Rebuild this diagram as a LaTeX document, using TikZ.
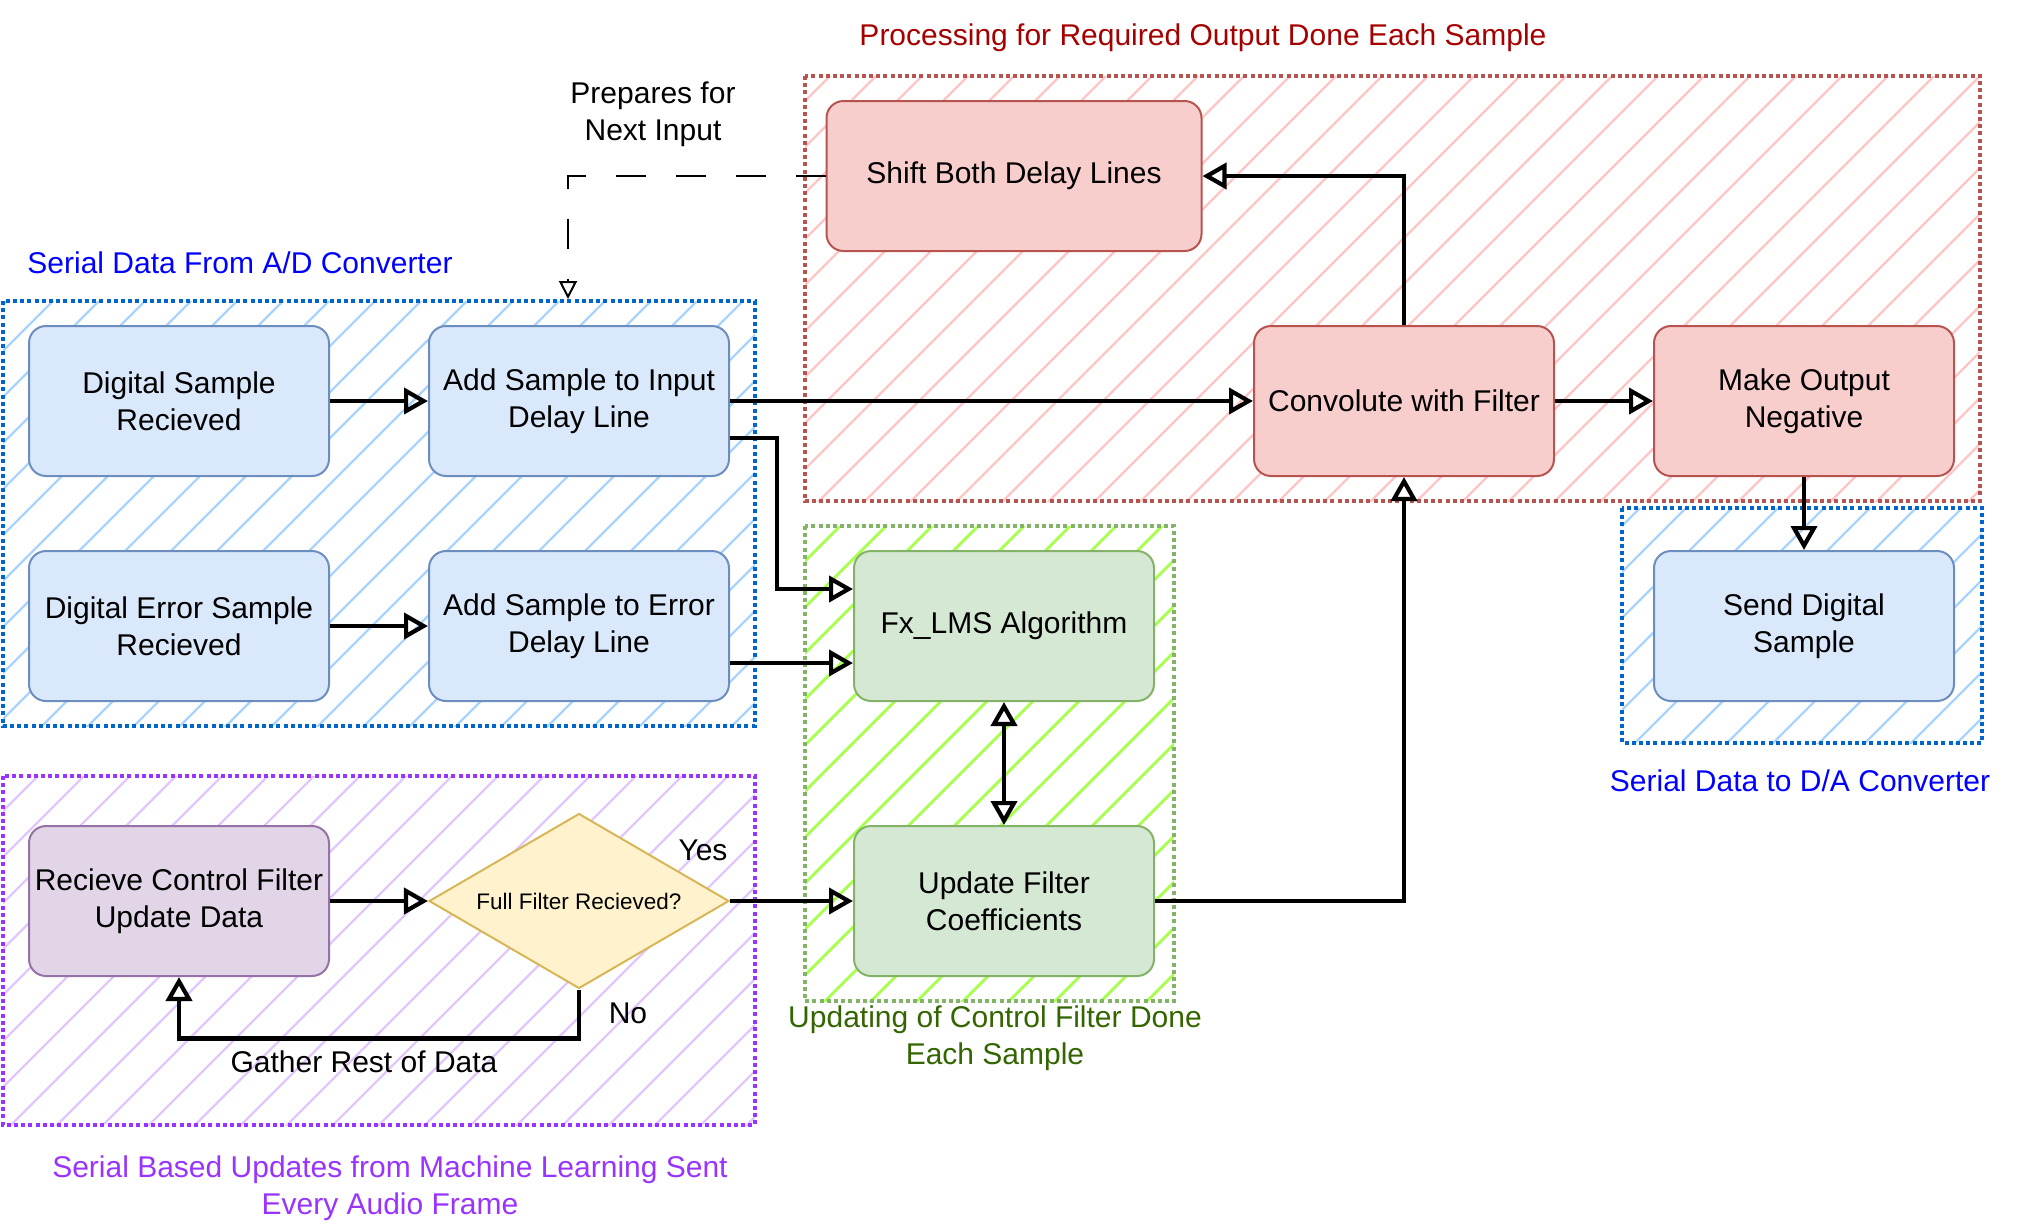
\documentclass[tikz,border=0pt]{standalone}
\usepackage{fontspec}
\setmainfont{Liberation Sans}
\usepackage{xcolor}
\usepackage{tikz}
\usetikzlibrary{arrows.meta,calc,shapes.geometric}

\definecolor{bluefill}{HTML}{DAE8FC}
\definecolor{blueline}{HTML}{6C8EBF}
\definecolor{redfill}{HTML}{F8CECC}
\definecolor{redline}{HTML}{B85450}
\definecolor{greenfill}{HTML}{D5E8D4}
\definecolor{greenline}{HTML}{82B366}
\definecolor{purplefill}{HTML}{E1D5E7}
\definecolor{purpleline}{HTML}{9673A6}
\definecolor{yellowfill}{HTML}{FFF2CC}
\definecolor{yellowline}{HTML}{D6B656}
\definecolor{bluedot}{HTML}{0066CC}
\definecolor{bluehatch}{HTML}{A9D3FF}
\definecolor{reddot}{HTML}{B85450}
\definecolor{redhatch}{HTML}{FFC4C4}
\definecolor{greendot}{HTML}{82B366}
\definecolor{greenhatch}{HTML}{A6FF4D}
\definecolor{purpledot}{HTML}{9933FF}
\definecolor{purplehatch}{HTML}{E2C6FF}
\definecolor{redtitle}{HTML}{A50000}
\definecolor{bluetitle}{HTML}{0000FF}
\definecolor{greentitle}{HTML}{336600}
\definecolor{purpletitle}{HTML}{9933FF}

\newcommand{\hatchrect}[4]{%
  \begin{scope}
    \clip #2 rectangle #3;
    \foreach \hx in {-1288,-1242,...,2040}
      \draw[#1,line width=#4] (\hx,1228) -- ++(1228,-1228);
  \end{scope}}

\begin{document}
\begin{tikzpicture}[x=0.5pt,y=-0.5pt,
    box/.style={draw,rounded corners=8.5pt,line width=1pt,minimum width=150pt,minimum height=75pt,inner sep=0pt,align=center,font=\fontsize{15}{18.5}\selectfont},
    bluebox/.style={box,fill=bluefill,draw=blueline},
    redbox/.style={box,fill=redfill,draw=redline},
    greenbox/.style={box,fill=greenfill,draw=greenline},
    purplebox/.style={box,fill=purplefill,draw=purpleline},
    frame/.style={line width=2pt,dash pattern=on 2pt off 1.6pt},
    flow/.style={line width=2.1pt,-{Triangle[open,length=12pt,width=13pt]}},
    lbl/.style={align=center,font=\fontsize{15}{18.5}\selectfont}]
    \useasboundingbox (0,0) rectangle (2040,1228);

    \hatchrect{redhatch}{(805,76)}{(1980,501)}{1.1pt}
    \hatchrect{bluehatch}{(3,301)}{(755,726)}{1.1pt}
    \hatchrect{greenhatch}{(805,526)}{(1174,1001)}{1.4pt}
    \hatchrect{purplehatch}{(3,776)}{(755,1125)}{1.1pt}
    \hatchrect{bluehatch}{(1622,508)}{(1982,743)}{1.1pt}
    \draw[frame,draw=reddot] (805,76) rectangle (1980,501);
    \draw[frame,draw=bluedot] (3,301) rectangle (755,726);
    \draw[frame,draw=greendot] (805,526) rectangle (1174,1001);
    \draw[frame,draw=purpledot] (3,776) rectangle (755,1125);
    \draw[frame,draw=bluedot] (1622,508) rectangle (1982,743);

    \node[lbl,text=redtitle] (redtitle) at (1203,38) {Processing for Required Output Done Each Sample};
    \node[lbl,text=bluetitle] (intitle) at (240,263) {Serial Data From A/D Converter};
    \node[lbl,text=bluetitle] (outtitle) at (1800,781) {Serial Data to D/A Converter};
    \node[lbl,text=greentitle] (greentitle) at (995,1038) {Updating of Control Filter Done\\Each Sample};
    \node[lbl,text=purpletitle] (purpletitle) at (390,1188) {Serial Based Updates from Machine Learning Sent\\Every Audio Frame};

    \node[bluebox] (sample) at (179,401) {Digital Sample\\Recieved};
    \node[bluebox] (addin) at (579,401) {Add Sample to Input\\Delay Line};
    \node[bluebox] (error) at (179,626) {Digital Error Sample\\Recieved};
    \node[bluebox] (adderr) at (579,626) {Add Sample to Error\\Delay Line};
    \node[redbox,minimum width=187.5pt] (shift) at (1014,176) {Shift Both Delay Lines};
    \node[redbox] (conv) at (1404,401) {Convolute with Filter};
    \node[redbox] (neg) at (1804,401) {Make Output\\Negative};
    \node[bluebox] (send) at (1804,626) {Send Digital\\Sample};
    \node[greenbox] (lms) at (1004,626) {Fx\_LMS Algorithm};
    \node[greenbox] (update) at (1004,901) {Update Filter\\Coefficients};
    \node[purplebox] (recv) at (179,901) {Recieve Control Filter\\Update Data};
    \node[draw=yellowline,fill=yellowfill,line width=1pt,diamond,aspect=2,minimum width=150pt,minimum height=87.5pt,inner sep=0pt,font=\fontsize{11.25}{13.5}\selectfont] (full) at (579,901) {Full Filter Recieved?};

    \node[lbl] (prep) at (653,114) {Prepares for\\Next Input};
    \node[lbl] (yes) at (703,850) {Yes};
    \node[lbl] (no) at (628,1013) {No};
    \node[lbl] (gather) at (364,1062) {Gather Rest of Data};
    \coordinate (dashend) at (568,299);

    \draw[line width=1pt,dash pattern=on 15pt off 15pt,-{Triangle[open,length=9pt,width=9pt]}] (shift.west) -| (dashend);
    \draw[flow] (sample) to (addin);
    \draw[flow] (error) to (adderr);
    \draw[flow] (addin) to (conv);
    \draw[flow] ($(addin.east)+(0,37)$) -- ++(47,0) |- ($(lms.west)+(0,-37)$);
    \draw[flow] ($(adderr.east)+(0,37)$) -- ($(lms.west)+(0,37)$);
    \draw[flow] (conv) to (neg);
    \draw[flow] (conv.north) |- (shift.east);
    \draw[flow] (neg) to (send);
    \draw[flow,{Triangle[open,length=12pt,width=13pt]}-{Triangle[open,length=12pt,width=13pt]}] (lms) to (update);
    \draw[flow] (recv) to (full);
    \draw[flow] (full.east) to (update.west);
    \draw[flow] (full.south) -- ++(0,49) -| (recv.south);
    \draw[flow] (update.east) -| (conv.south);
\end{tikzpicture}
\end{document}
